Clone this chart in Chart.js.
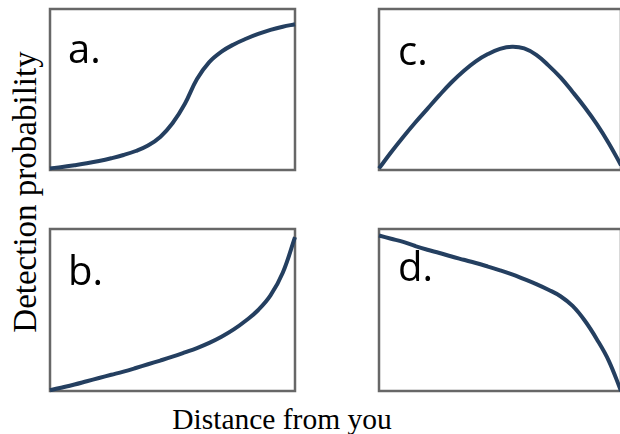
<!DOCTYPE html>
<html>
<head>
<meta charset="utf-8">
<script src="https://cdn.jsdelivr.net/npm/chart.js@4.4.0/dist/chart.umd.min.js"></script>
<style>
    html, body { margin: 0; padding: 0; background: #fff; overflow: hidden; }
    body { width: 620px; height: 434px; position: relative; }
    .panel { position: absolute; }
    .tag {
        position: absolute;
        font-family: "Open Sans", sans-serif;
        font-size: 40px;
        line-height: 1;
        color: #000;
    }
    #ylabel {
        position: absolute;
        left: 25px; top: 192px;
        transform: translate(-50%, -50%) rotate(-90deg);
        font-family: "Liberation Serif", serif;
        font-size: 33px;
        white-space: nowrap;
        color: #000;
    }
    #xlabel {
        position: absolute;
        left: 282px; top: 403px;
        transform: translateX(-50%);
        font-family: "Liberation Serif", serif;
        font-size: 29.5px;
        white-space: nowrap;
        color: #000;
    }
</style>
</head>
<body>
<div id="ylabel">Detection probability</div>
<div id="xlabel">Distance from you</div>

<div class="panel" id="wrapA"><canvas id="chartA"></canvas></div>
<div class="panel" id="wrapB"><canvas id="chartB"></canvas></div>
<div class="panel" id="wrapC"><canvas id="chartC"></canvas></div>
<div class="panel" id="wrapD"><canvas id="chartD"></canvas></div>

<div class="tag" style="left:68px; top:28px;">a.</div>
<div class="tag" style="left:68px; top:250px;">b.</div>
<div class="tag" style="left:398px; top:30px;">c.</div>
<div class="tag" style="left:398px; top:246px;">d.</div>

<script>
// 距離 (0-100)，四種偵測機率曲線 (0-1)
const distance = [0, 5, 10, 15, 20, 25, 30, 35, 40, 45, 50, 55, 60, 65, 70, 75, 80, 85, 90, 95, 100];

const probA = [0.01, 0.019, 0.03, 0.042, 0.056, 0.073, 0.093, 0.118, 0.152, 0.205, 0.29,
               0.41, 0.565, 0.67, 0.735, 0.78, 0.815, 0.845, 0.87, 0.89, 0.905];

const probB = [0.005, 0.022, 0.04, 0.06, 0.08, 0.10, 0.12, 0.142, 0.165, 0.188, 0.212,
               0.238, 0.265, 0.297, 0.335, 0.38, 0.435, 0.50, 0.59, 0.73, 0.95];

const probC = [0.01, 0.11, 0.205, 0.295, 0.38, 0.465, 0.545, 0.615, 0.675, 0.72, 0.752,
               0.765, 0.755, 0.715, 0.65, 0.575, 0.485, 0.39, 0.285, 0.165, 0.03];

const probD = [0.96, 0.94, 0.92, 0.895, 0.872, 0.852, 0.83, 0.81, 0.79, 0.768, 0.745,
               0.72, 0.69, 0.66, 0.625, 0.585, 0.525, 0.435, 0.32, 0.185, 0.0];

const LINE_COLOR = '#243f60';
const FRAME_COLOR = '#676767';
const PAD = 4;

// 外框：畫在曲線之前，讓曲線壓在框線上
const framePlugin = {
    id: 'frame',
    beforeDatasetsDraw(chart) {
        const { ctx, chartArea: a } = chart;
        ctx.save();
        ctx.strokeStyle = FRAME_COLOR;
        ctx.lineWidth = 2.5;
        ctx.strokeRect(a.left, a.top, a.right - a.left, a.bottom - a.top);
        ctx.restore();
    }
};

function makePanel(id, wrapId, box, ys) {
    const wrap = document.getElementById(wrapId);
    wrap.style.left = (box.left - PAD) + 'px';
    wrap.style.top = (box.top - PAD) + 'px';
    wrap.style.width = (box.right - box.left + PAD * 2) + 'px';
    wrap.style.height = (box.bottom - box.top + PAD * 2) + 'px';

    return new Chart(document.getElementById(id).getContext('2d'), {
        type: 'line',
        data: {
            datasets: [{
                data: distance.map((x, i) => ({ x: x, y: ys[i] })),
                borderColor: LINE_COLOR,
                borderWidth: 4,
                pointRadius: 0,
                tension: 0.4,
                fill: false,
                clip: false
            }]
        },
        options: {
            responsive: true,
            maintainAspectRatio: false,
            animation: false,
            layout: { padding: PAD },
            plugins: { legend: { display: false }, tooltip: { enabled: false } },
            scales: {
                x: { type: 'linear', min: 0, max: 100, display: false },
                y: { min: 0, max: 1, display: false }
            }
        },
        plugins: [framePlugin]
    });
}

makePanel('chartA', 'wrapA', { left: 50, top: 9, right: 295, bottom: 170 }, probA);
makePanel('chartB', 'wrapB', { left: 50, top: 229, right: 295, bottom: 391 }, probB);
makePanel('chartC', 'wrapC', { left: 379, top: 9, right: 621, bottom: 170 }, probC);
makePanel('chartD', 'wrapD', { left: 379, top: 229, right: 621, bottom: 391 }, probD);
</script>
</body>
</html>
